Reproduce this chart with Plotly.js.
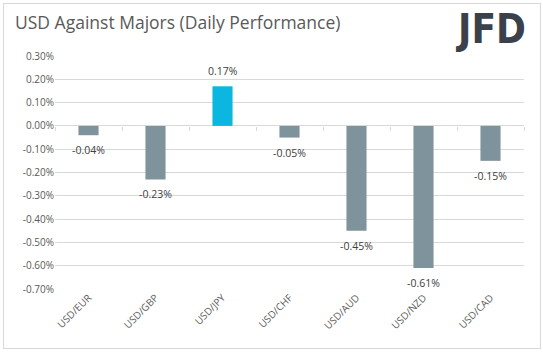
<!DOCTYPE html>
<html>
<head>
<meta charset="utf-8">
<script src="https://cdn.plot.ly/plotly-3.0.1.min.js"></script>
<style>
  html, body { margin: 0; padding: 0; background: #fff; }
  #wrap { position: relative; width: 543px; height: 352px; }
  #chart { position: absolute; left: 0; top: 0; width: 543px; height: 352px; }
  #frame { position: absolute; left: 3px; top: 3px; width: 536px; height: 344px; border: 1px solid #d9d9d9; pointer-events: none; }
</style>
</head>
<body>
<div id="wrap">
  <div id="chart"></div>
  <div id="frame"></div>
</div>
<script>
const categories = ["USD/EUR", "USD/GBP", "USD/JPY", "USD/CHF", "USD/AUD", "USD/NZD", "USD/CAD"];
const values = [-0.04, -0.23, 0.17, -0.05, -0.45, -0.61, -0.15];
const labels = ["-0.04%", "-0.23%", "0.17%", "-0.05%", "-0.45%", "-0.61%", "-0.15%"];
const tickValues = [0.3, 0.2, 0.1, 0.0, -0.1, -0.2, -0.3, -0.4, -0.5, -0.6, -0.7];
const tickLabels = ["0.30%", "0.20%", "0.10%", "0.00%", "-0.10%", "-0.20%", "-0.30%", "-0.40%", "-0.50%", "-0.60%", "-0.70%"];

const colors = values.map(v => v > 0 ? "#0bb7e0" : "#7f939c");
const FONT = "Open Sans, Calibri, sans-serif";
const TXT = "#595959";

const traces = [
  {
    type: "bar",
    x: categories,
    y: values,
    marker: { color: colors },
    hoverinfo: "skip"
  },
  {
    type: "scatter",
    x: categories,
    y: categories.map(() => null),
    xaxis: "x2",
    yaxis: "y",
    hoverinfo: "skip",
    showlegend: false
  }
];

const valueLabels = categories.map((c, i) => ({
  x: c,
  y: values[i],
  xref: "x",
  yref: "y",
  text: labels[i],
  showarrow: false,
  xanchor: "center",
  yanchor: values[i] >= 0 ? "bottom" : "top",
  yshift: values[i] >= 0 ? 6 : -6,
  font: { family: FONT, size: 10.5, color: "#404040" }
}));

const layout = {
  width: 543,
  height: 352,
  margin: { l: 55, r: 19, t: 56, b: 63 },
  paper_bgcolor: "#ffffff",
  plot_bgcolor: "#ffffff",
  showlegend: false,
  bargap: 0.7,
  font: { family: FONT, color: TXT, size: 10 },
  title: {
    text: "USD Against Majors (Daily Performance)",
    x: 0, xref: "container", xanchor: "left",
    y: 1, yref: "container", yanchor: "top",
    pad: { t: 17, l: 15 },
    font: { family: FONT, size: 17.5, color: TXT }
  },
  xaxis: {
    type: "category",
    categoryarray: categories,
    range: [-0.5, 6.5],
    showgrid: false,
    zeroline: false,
    showline: false,
    ticks: "",
    tickangle: -45,
    tickfont: { family: FONT, size: 10, color: TXT },
    fixedrange: true
  },
  xaxis2: {
    type: "category",
    categoryarray: categories,
    range: [-0.5, 6.5],
    overlaying: "x",
    anchor: "free",
    position: 0.7,
    side: "bottom",
    showgrid: false,
    zeroline: false,
    showline: false,
    showticklabels: false,
    ticks: "outside",
    tickson: "boundaries",
    ticklen: 4,
    tickwidth: 1,
    tickcolor: "#d9d9d9",
    fixedrange: true
  },
  yaxis: {
    range: [-0.7, 0.3],
    tickvals: tickValues,
    ticktext: tickLabels,
    showgrid: true,
    gridcolor: "#d9d9d9",
    gridwidth: 1,
    zeroline: true,
    zerolinecolor: "#d9d9d9",
    zerolinewidth: 1,
    showline: false,
    ticks: "",
    tickfont: { family: FONT, size: 10, color: TXT },
    fixedrange: true
  },
  annotations: valueLabels.concat([
    {
      text: "<b>JFD</b>",
      xref: "paper", yref: "paper",
      x: 1.0, y: 1.0,
      xanchor: "right", yanchor: "top",
      xshift: 4, yshift: 52,
      showarrow: false,
      font: { family: "DejaVu Sans Condensed, DejaVu Sans, sans-serif", size: 40, color: "#3b414a" }
    }
  ])
};

Plotly.newPlot("chart", traces, layout, { displayModeBar: false, staticPlot: true });
</script>
</body>
</html>
